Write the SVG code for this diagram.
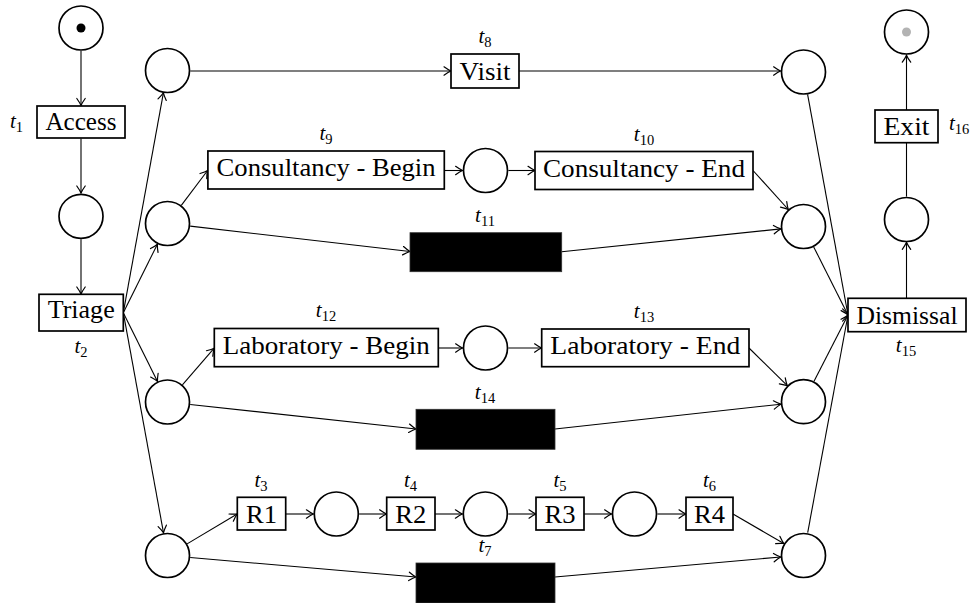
<svg xmlns="http://www.w3.org/2000/svg" width="975" height="603" viewBox="0 0 975 603">
<style>
.pl{fill:#fff;stroke:#000;stroke-width:1.7}
.tr{fill:#fff;stroke:#000;stroke-width:1.7}
.bk{fill:#000;stroke:#333;stroke-width:0.8}
.tx{font-family:"Liberation Serif",serif;font-size:25px;text-anchor:middle;fill:#000}
.lb{font-family:"Liberation Serif",serif;font-size:21px;fill:#000}
.it{font-style:italic}
.sub{font-size:14.5px}
.ar{fill:none;stroke:#000;stroke-width:1.1;marker-end:url(#arr)}
</style>
<defs>
<marker id="arr" viewBox="-9 -6 11 12" refX="0" refY="0" markerWidth="11" markerHeight="12" markerUnits="userSpaceOnUse" orient="auto">
<path d="M-7,-4.2 Q-2.5,-1 0,0 Q-2.5,1 -7,4.2" fill="none" stroke="#000" stroke-width="1.2" stroke-linecap="round"/>
</marker>
</defs>
<rect width="975" height="603" fill="#fff"/>

<g id="connectors">
<line class="ar" x1="81" y1="50.8" x2="81" y2="105.5"/>
<line class="ar" x1="81" y1="138.5" x2="81" y2="193"/>
<line class="ar" x1="81" y1="239.2" x2="81" y2="294"/>
<line class="ar" x1="123.3" y1="312.7" x2="163.4" y2="92.8"/>
<line class="ar" x1="123.3" y1="312.7" x2="157.4" y2="244.2"/>
<line class="ar" x1="123.3" y1="312.7" x2="157.5" y2="381.4"/>
<line class="ar" x1="123.3" y1="312.7" x2="163.5" y2="532.8"/>
<line class="ar" x1="190.3" y1="71" x2="451" y2="71"/>
<line class="ar" x1="519" y1="71" x2="780.6" y2="71"/>
<line class="ar" x1="181.3" y1="205.3" x2="207.6" y2="170.5"/>
<line class="ar" x1="444.3" y1="170.5" x2="462.6" y2="170.5"/>
<line class="ar" x1="508.4" y1="170.5" x2="535" y2="170.5"/>
<line class="ar" x1="753" y1="170.5" x2="788.3" y2="209.5"/>
<line class="ar" x1="190.2" y1="226.1" x2="410" y2="251.5"/>
<line class="ar" x1="561.7" y1="251.7" x2="780.8" y2="228.9"/>
<line class="ar" x1="182.4" y1="384.8" x2="214.2" y2="348.2"/>
<line class="ar" x1="438.3" y1="348" x2="462.6" y2="348"/>
<line class="ar" x1="508.4" y1="348" x2="541.6" y2="348"/>
<line class="ar" x1="749" y1="348" x2="787.3" y2="385.7"/>
<line class="ar" x1="190.2" y1="404.5" x2="416" y2="429"/>
<line class="ar" x1="555" y1="429" x2="780.8" y2="404.2"/>
<line class="ar" x1="187.1" y1="543.9" x2="237.2" y2="514"/>
<line class="ar" x1="285.7" y1="514" x2="313.4" y2="514"/>
<line class="ar" x1="359.2" y1="514" x2="386.6" y2="514"/>
<line class="ar" x1="435" y1="514" x2="462.4" y2="514"/>
<line class="ar" x1="508.3" y1="514" x2="536" y2="514"/>
<line class="ar" x1="584" y1="514" x2="611.6" y2="514"/>
<line class="ar" x1="657.4" y1="514" x2="686" y2="514"/>
<line class="ar" x1="733" y1="514" x2="783.8" y2="543.5"/>
<line class="ar" x1="190.2" y1="557.5" x2="416" y2="577"/>
<line class="ar" x1="555" y1="577" x2="780.8" y2="557"/>
<line class="ar" x1="807.6" y1="94.4" x2="848" y2="315"/>
<line class="ar" x1="813.7" y1="246.9" x2="848" y2="315"/>
<line class="ar" x1="813.9" y1="381.4" x2="848" y2="315"/>
<line class="ar" x1="807.7" y1="532.6" x2="848" y2="315"/>
<line class="ar" x1="906.5" y1="298.3" x2="906.5" y2="242.3"/>
<line class="ar" x1="906.5" y1="196.6" x2="906.5" y2="110"/>
<line class="ar" x1="906.5" y1="110" x2="906.5" y2="55.2"/>
</g>

<g id="p_start"><circle class="pl" cx="81" cy="28" r="22"/><circle cx="81" cy="28" r="4.5" fill="#000"/></g>
<g id="t1"><rect class="tr" x="37" y="106" width="88" height="32"/><text class="tx" x="81" y="130" textLength="71" lengthAdjust="spacingAndGlyphs">Access</text><text class="lb" x="10" y="128"><tspan class="it">t</tspan><tspan class="sub" dy="4">1</tspan></text></g>
<g id="p1"><circle class="pl" cx="81" cy="216.3" r="22"/></g>
<g id="t2"><rect class="tr" x="39" y="294.3" width="84.3" height="36.7"/><text class="tx" x="81.2" y="318" textLength="67" lengthAdjust="spacingAndGlyphs">Triage</text><text class="lb" x="81" y="353" text-anchor="middle"><tspan class="it">t</tspan><tspan class="sub" dy="4">2</tspan></text></g>

<g id="p_visit"><circle class="pl" cx="167.5" cy="70.5" r="22"/></g>
<g id="p_cons"><circle class="pl" cx="167.5" cy="223.5" r="22"/></g>
<g id="p_lab"><circle class="pl" cx="167.5" cy="402" r="22"/></g>
<g id="p_r"><circle class="pl" cx="167.5" cy="555.5" r="22"/></g>

<g id="t8"><rect class="tr" x="451" y="54" width="68" height="34"/><text class="tx" x="485" y="80" textLength="51" lengthAdjust="spacingAndGlyphs">Visit</text><text class="lb" x="485" y="43" text-anchor="middle"><tspan class="it">t</tspan><tspan class="sub" dy="4">8</tspan></text></g>

<g id="t9"><rect class="tr" x="207.9" y="151" width="236.4" height="38"/><text class="tx" x="326.1" y="176" textLength="219" lengthAdjust="spacingAndGlyphs">Consultancy - Begin</text><text class="lb" x="326" y="139.5" text-anchor="middle"><tspan class="it">t</tspan><tspan class="sub" dy="4">9</tspan></text></g>
<g id="p_cons_mid"><circle class="pl" cx="485.5" cy="170.5" r="22"/></g>
<g id="t10"><rect class="tr" x="535" y="151.5" width="218" height="38"/><text class="tx" x="644" y="177" textLength="202" lengthAdjust="spacingAndGlyphs">Consultancy - End</text><text class="lb" x="644" y="140.5" text-anchor="middle"><tspan class="it">t</tspan><tspan class="sub" dy="4">10</tspan></text></g>
<g id="t11"><rect class="bk" x="410" y="232.7" width="151.7" height="39"/><text class="lb" x="485" y="221.7" text-anchor="middle"><tspan class="it">t</tspan><tspan class="sub" dy="4">11</tspan></text></g>

<g id="t12"><rect class="tr" x="214.3" y="328.5" width="224" height="38.2"/><text class="tx" x="326.3" y="354" textLength="207" lengthAdjust="spacingAndGlyphs">Laboratory - Begin</text><text class="lb" x="326" y="317.3" text-anchor="middle"><tspan class="it">t</tspan><tspan class="sub" dy="4">12</tspan></text></g>
<g id="p_lab_mid"><circle class="pl" cx="485.5" cy="348" r="22"/></g>
<g id="t13"><rect class="tr" x="541.7" y="329" width="207.3" height="37.7"/><text class="tx" x="645.3" y="354" textLength="190" lengthAdjust="spacingAndGlyphs">Laboratory - End</text><text class="lb" x="644" y="318" text-anchor="middle"><tspan class="it">t</tspan><tspan class="sub" dy="4">13</tspan></text></g>
<g id="t14"><rect class="bk" x="416" y="409.3" width="139" height="40"/><text class="lb" x="485" y="399" text-anchor="middle"><tspan class="it">t</tspan><tspan class="sub" dy="4">14</tspan></text></g>

<g id="t3"><rect class="tr" x="237.3" y="497.3" width="48.4" height="32.7"/><text class="tx" x="261.5" y="523" textLength="31" lengthAdjust="spacingAndGlyphs">R1</text><text class="lb" x="261" y="486.5" text-anchor="middle"><tspan class="it">t</tspan><tspan class="sub" dy="4">3</tspan></text></g>
<g id="p_r1"><circle class="pl" cx="336.3" cy="514" r="22"/></g>
<g id="t4"><rect class="tr" x="386.7" y="497.3" width="48.3" height="32.7"/><text class="tx" x="410.8" y="523" textLength="31" lengthAdjust="spacingAndGlyphs">R2</text><text class="lb" x="410.5" y="486.5" text-anchor="middle"><tspan class="it">t</tspan><tspan class="sub" dy="4">4</tspan></text></g>
<g id="p_r2"><circle class="pl" cx="485.3" cy="514" r="22"/></g>
<g id="t5"><rect class="tr" x="536" y="497.3" width="48" height="32.7"/><text class="tx" x="560" y="523" textLength="31" lengthAdjust="spacingAndGlyphs">R3</text><text class="lb" x="560" y="486.5" text-anchor="middle"><tspan class="it">t</tspan><tspan class="sub" dy="4">5</tspan></text></g>
<g id="p_r3"><circle class="pl" cx="634.5" cy="514" r="22"/></g>
<g id="t6"><rect class="tr" x="686" y="497.3" width="47" height="32.7"/><text class="tx" x="709.5" y="523" textLength="31" lengthAdjust="spacingAndGlyphs">R4</text><text class="lb" x="709.5" y="486.5" text-anchor="middle"><tspan class="it">t</tspan><tspan class="sub" dy="4">6</tspan></text></g>
<g id="t7"><rect class="bk" x="416" y="563" width="139" height="40"/><text class="lb" x="485" y="552" text-anchor="middle"><tspan class="it">t</tspan><tspan class="sub" dy="4">7</tspan></text></g>

<g id="p_visit_end"><circle class="pl" cx="803.5" cy="72" r="22"/></g>
<g id="p_cons_end"><circle class="pl" cx="803.5" cy="226.5" r="22"/></g>
<g id="p_lab_end"><circle class="pl" cx="803.5" cy="401.7" r="22"/></g>
<g id="p_r_end"><circle class="pl" cx="803.5" cy="555.5" r="22"/></g>

<g id="t15"><rect class="tr" x="848" y="298.3" width="118" height="33.4"/><text class="tx" x="907" y="323.5" textLength="101" lengthAdjust="spacingAndGlyphs">Dismissal</text><text class="lb" x="906" y="352" text-anchor="middle"><tspan class="it">t</tspan><tspan class="sub" dy="4">15</tspan></text></g>
<g id="p_done"><circle class="pl" cx="906.5" cy="219.5" r="22"/></g>
<g id="t16"><rect class="tr" x="875" y="110" width="63" height="32.7"/><text class="tx" x="906.5" y="134.5" textLength="46" lengthAdjust="spacingAndGlyphs">Exit</text><text class="lb" x="949" y="130"><tspan class="it">t</tspan><tspan class="sub" dy="4">16</tspan></text></g>
<g id="p_end"><circle class="pl" cx="906.5" cy="32" r="22"/><circle cx="906.5" cy="32" r="4.5" fill="#b3b3b3"/></g>
</svg>
